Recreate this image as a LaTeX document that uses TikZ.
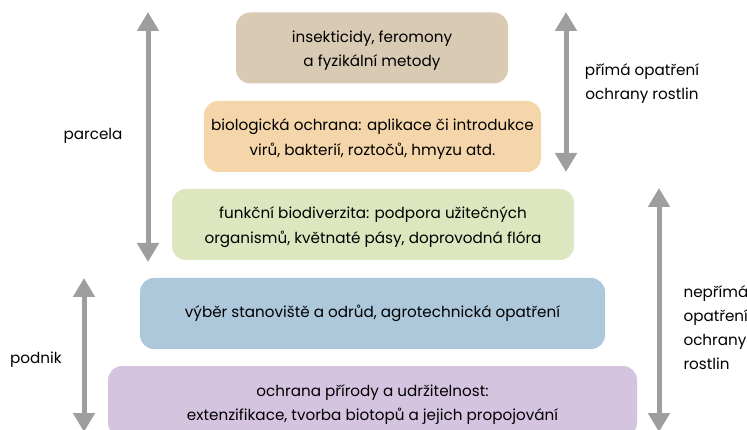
\documentclass[tikz,border=0pt]{standalone}
\usepackage{fontspec}
\setmainfont{Poppins}
\usetikzlibrary{arrows.meta}

\definecolor{tanbox}{HTML}{D9CAB3}
\definecolor{orangebox}{HTML}{F5D6AA}
\definecolor{greenbox}{HTML}{DCE6BF}
\definecolor{bluebox}{HTML}{ADC8DB}
\definecolor{purplebox}{HTML}{D5C4E0}
\definecolor{arrowgray}{HTML}{9E9E9E}

\tikzset{
    layerbox/.style={rounded corners=14pt, align=center, inner sep=0pt,
        minimum height=71pt, text height=41pt, text depth=3pt,
        font=\fontsize{15.2}{24.5}\selectfont},
    onelinebox/.style={layerbox, text height=13pt, text depth=4pt},
    scalearrow/.style={line width=5pt, draw=arrowgray,
        {Triangle[width=21pt,length=19pt]}-{Triangle[width=21pt,length=19pt]}},
    sidetext/.style={font=\fontsize{15.2}{24}\selectfont}
}

\begin{document}
\begin{tikzpicture}[x=1pt,y=-1pt]
        \useasboundingbox (0,0) rectangle (747,430);
        \clip (0,0) rectangle (747,430);

        % vrstvy
        \node[layerbox, fill=tanbox, minimum width=272pt] (insekt) at (372,48)
            {insekticidy, feromony\\a fyzikální metody};
        \node[layerbox, fill=orangebox, minimum width=337pt] (bio) at (372.5,136.5)
            {biologická ochrana: aplikace či introdukce\\virů, bakterií, roztočů, hmyzu atd.};
        \node[layerbox, fill=greenbox, minimum width=402pt] (funkc) at (373,224.5)
            {funkční biodiverzita: podpora užitečných\\organismů, květnaté pásy, doprovodná flóra};
        \node[onelinebox, fill=bluebox, minimum width=465pt] (vyber) at (372.5,313.5)
            {výběr stanoviště a odrůd, agrotechnická opatření};
        \node[layerbox, fill=purplebox, minimum width=529pt] (priroda) at (372.5,401.5)
            {ochrana přírody a udržitelnost:\\extenzifikace, tvorba biotopů a jejich propojování};

        % meritka
        \coordinate (A) at (148,12);
        \coordinate (B) at (148,262);
        \coordinate (C) at (84,278);
        \coordinate (D) at (84,432);
        \coordinate (E) at (566,12);
        \coordinate (F) at (566,172);
        \coordinate (G) at (659,188);
        \coordinate (H) at (659,432);

        \draw[scalearrow] (A) -- (B);
        \draw[scalearrow] (C) -- (D);
        \draw[scalearrow] (E) -- (F);
        \draw[scalearrow] (G) -- (H);

        \node[sidetext] (parcela) at (93,136) {parcela};
        \node[sidetext] (podnik) at (36,360) {podnik};
        \node[sidetext, align=center] (prima) at (642,84) {přímá opatření\\ochrany rostlin};
        \node[sidetext, align=left, anchor=west] (neprima) at (680,328)
            {nepřímá\\opatření\\ochrany\\rostlin};

    \end{tikzpicture}
\end{document}
